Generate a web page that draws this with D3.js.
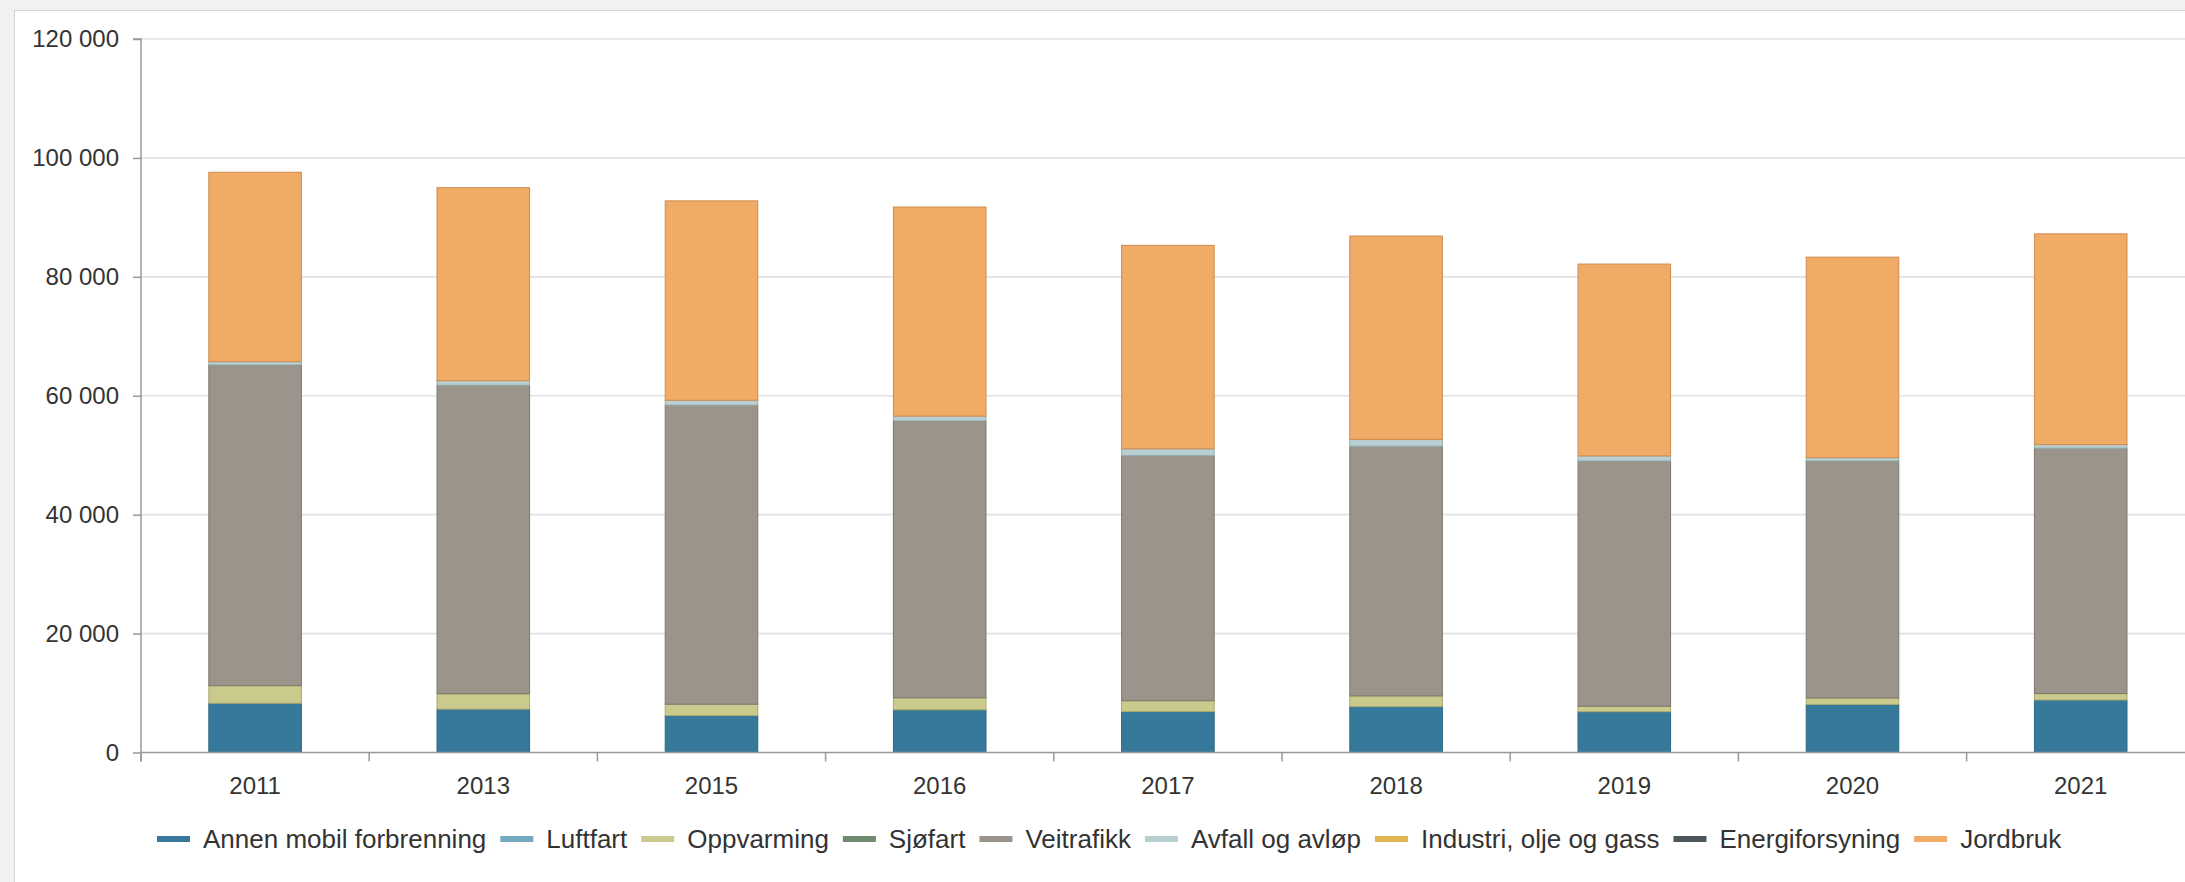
<!DOCTYPE html>
<meta charset="utf-8">
<style>
  html, body { margin: 0; padding: 0; background: #f1f1f1; overflow: hidden; }
  svg { display: block; font-family: "Liberation Sans", Arial, sans-serif; }
</style>
<script src="https://d3js.org/d3.v7.min.js"></script>
<div id="dataviz"></div>
<script>

// data
var years = ["2011", "2013", "2015", "2016", "2017", "2018", "2019", "2020", "2021"];
var sectors = ["Annen mobil forbrenning", "Luftfart", "Oppvarming", "Sjøfart", "Veitrafikk",
               "Avfall og avløp", "Industri, olje og gass", "Energiforsyning", "Jordbruk"];

var annenMobil   = [8280, 7300, 6220, 7180, 6880, 7720, 6860, 8070, 8830];
var luftfart     = [0, 0, 0, 0, 0, 0, 0, 0, 0];
var oppvarming   = [2960, 2590, 1900, 2020, 1830, 1800, 930, 1100, 1080];
var sjofart      = [0, 0, 0, 0, 0, 0, 0, 0, 0];
var veitrafikk   = [53950, 51890, 50310, 46590, 41260, 42000, 41240, 39860, 41270];
var avfall       = [550, 760, 810, 790, 1110, 1140, 860, 570, 610];
var industri     = [0, 0, 0, 0, 0, 0, 0, 0, 0];
var energi       = [0, 0, 0, 0, 0, 0, 0, 0, 0];
var jordbruk     = [31850, 32460, 33540, 35160, 34220, 34200, 32260, 33710, 35440];

var yTicks = [0, 20000, 40000, 60000, 80000, 100000, 120000];

var colors = ["#36799a", "#74a9c0", "#c9ca8c", "#6f8a6f", "#9b948a",
              "#b8ced0", "#e3b452", "#4c575b", "#f0ab66"];
var strokes = ["#2b6682", "#5c8fa6", "#a9aa6e", "#566e57", "#7d766d",
               "#98b0b2", "#c39632", "#343d40", "#cf8c4e"];

var seriesValues = [annenMobil, luftfart, oppvarming, sjofart, veitrafikk,
                    avfall, industri, energi, jordbruk];

var table = years.map(function(yr, i) {
  var row = {year: yr};
  sectors.forEach(function(s, k) { row[s] = seriesValues[k][i]; });
  return row;
});

var W = 2185, H = 882;
var plotLeft = 141, plotBottom = 752.5, plotTop = 39;
var step = 228.2;

var svg = d3.select("#dataviz").append("svg")
  .attr("width", W).attr("height", H);

// frame
svg.append("rect")
  .attr("x", 14.5).attr("y", 10.5)
  .attr("width", W).attr("height", H)
  .attr("fill", "#fff").attr("stroke", "#d4d4d4");

var x = d3.scaleBand()
  .domain(years)
  .range([plotLeft, plotLeft + step * years.length])
  .paddingInner(0.59)
  .paddingOuter(0.295);

var y = d3.scaleLinear()
  .domain([0, 120000])
  .range([plotBottom, plotTop]);

// grid
svg.append("g")
  .selectAll("line")
  .data(yTicks.slice(1))
  .enter().append("line")
    .attr("x1", plotLeft).attr("x2", W)
    .attr("y1", function(d) { return y(d); })
    .attr("y2", function(d) { return y(d); })
    .attr("stroke", "#e2e2e2")
    .attr("stroke-width", 1.6);

// stacked bars
var stack = d3.stack().keys(sectors);
var layers = stack(table);

svg.append("g")
  .selectAll("g")
  .data(layers)
  .enter().append("g")
    .attr("fill", function(d, i) { return colors[i]; })
    .attr("stroke", function(d, i) { return strokes[i]; })
  .selectAll("rect")
  .data(function(d) { return d.filter(function(p) { return p[1] - p[0] > 0; }); })
  .enter().append("rect")
    .attr("x", function(d) { return x(d.data.year) + 0.5; })
    .attr("width", x.bandwidth() - 1)
    .attr("y", function(d) { return y(d[1]); })
    .attr("height", function(d) { return y(d[0]) - y(d[1]); })
    .attr("stroke-width", 1);

// y axis
var yAxis = svg.append("g")
  .attr("transform", "translate(" + plotLeft + ",0)")
  .call(d3.axisLeft(y).tickValues(yTicks).tickSize(8).tickPadding(14)
        .tickFormat(function(d) { return d3.format(",")(d).replace(/,/g, " "); }));

// x axis
var xAxis = svg.append("g")
  .attr("transform", "translate(0," + plotBottom + ")")
  .call(d3.axisBottom(x).tickSize(0).tickPadding(24));

// x ticks at band boundaries
svg.append("g")
  .selectAll("line")
  .data(d3.range(years.length + 1))
  .enter().append("line")
    .attr("x1", function(i) { return plotLeft + i * step; })
    .attr("x2", function(i) { return plotLeft + i * step; })
    .attr("y1", plotBottom).attr("y2", plotBottom + 9)
    .attr("stroke", "#999").attr("stroke-width", 1.5);

[yAxis, xAxis].forEach(function(a) {
  a.select(".domain").attr("stroke", "#999").attr("stroke-width", 1.5);
  a.selectAll(".tick line").attr("stroke", "#999").attr("stroke-width", 1.5);
  a.selectAll("text")
    .attr("fill", "#333")
    .style("font-size", "24px")
    .style("font-family", "'Liberation Sans', Arial, sans-serif");
});
yAxis.select(".domain").attr("d", "M-8," + plotTop + "H0V" + (plotBottom + 9));
xAxis.select(".domain").attr("d", "M" + plotLeft + ",0H" + W);

// legend
var legend = svg.append("g").attr("transform", "translate(157,839)");
var lx = 0;
sectors.forEach(function(s, i) {
  var g = legend.append("g").attr("transform", "translate(" + lx + ",0)");
  g.append("line")
    .attr("x1", 0).attr("x2", 33)
    .attr("y1", 0).attr("y2", 0)
    .attr("stroke", colors[i])
    .attr("stroke-width", 6);
  var t = g.append("text")
    .attr("x", 46).attr("dy", "0.35em")
    .attr("fill", "#333")
    .style("font-size", "26px")
    .text(s);
  lx += 46 + t.node().getComputedTextLength() + 14;
});

</script>
